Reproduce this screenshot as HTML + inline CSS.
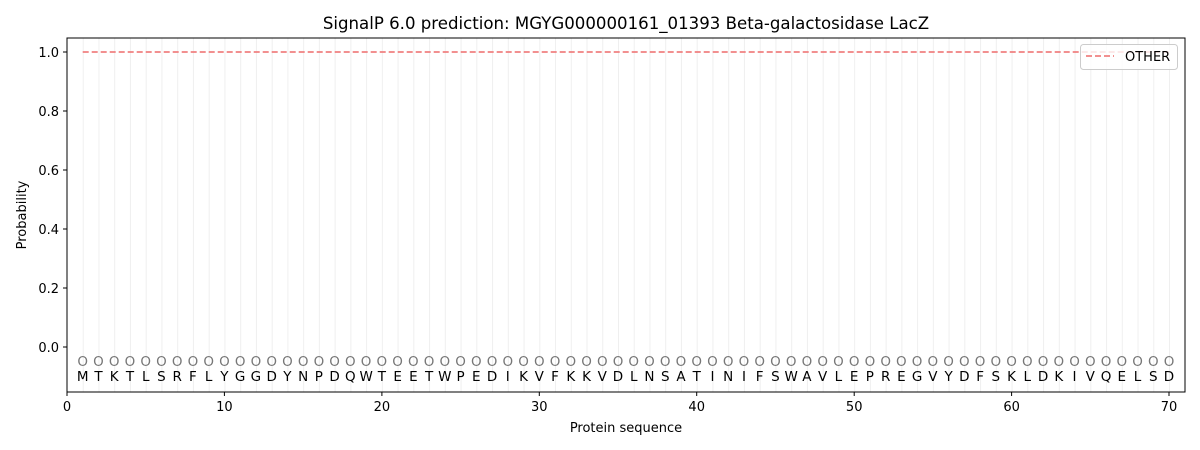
<!DOCTYPE html>
<html><head><meta charset="utf-8"><style>body{margin:0;background:#fff}svg{display:block}</style></head><body>
<svg width="1200" height="450" xmlns="http://www.w3.org/2000/svg" font-family="'DejaVu Sans','Liberation Sans',sans-serif">
<defs><pattern id="g" x="67" y="0" width="15.743" height="450" patternUnits="userSpaceOnUse"><rect x="-1" y="0" width="2" height="450" fill="#efefef"/></pattern></defs>
<rect width="1200" height="450" fill="#fff"/>
<rect x="70" y="38.5" width="1101" height="353" fill="url(#g)"/>
<text x="626" y="29" font-size="16.6" text-anchor="middle">SignalP 6.0 prediction: MGYG000000161_01393 Beta-galactosidase LacZ</text>
<line x1="82.7" y1="52" x2="1169" y2="52" stroke="#f08080" stroke-width="1.8" stroke-dasharray="6,3"/>
<text font-size="13.5" fill="#777" text-anchor="middle" y="366" x="82.74 98.49 114.23 129.97 145.72 161.46 177.20 192.94 208.69 224.43 240.17 255.92 271.66 287.40 303.15 318.89 334.63 350.37 366.12 381.86 397.60 413.35 429.09 444.83 460.58 476.32 492.06 507.80 523.55 539.29 555.03 570.78 586.52 602.26 618.01 633.75 649.49 665.23 680.98 696.72 712.46 728.21 743.95 759.69 775.44 791.18 806.92 822.66 838.41 854.15 869.89 885.64 901.38 917.12 932.87 948.61 964.35 980.09 995.84 1011.58 1027.32 1043.07 1058.81 1074.55 1090.30 1106.04 1121.78 1137.52 1153.27 1169.01">OOOOOOOOOOOOOOOOOOOOOOOOOOOOOOOOOOOOOOOOOOOOOOOOOOOOOOOOOOOOOOOOOOOOOO</text>
<text font-size="13.5" fill="#000" text-anchor="middle" y="381" x="82.74 98.49 114.23 129.97 145.72 161.46 177.20 192.94 208.69 224.43 240.17 255.92 271.66 287.40 303.15 318.89 334.63 350.37 366.12 381.86 397.60 413.35 429.09 444.83 460.58 476.32 492.06 507.80 523.55 539.29 555.03 570.78 586.52 602.26 618.01 633.75 649.49 665.23 680.98 696.72 712.46 728.21 743.95 759.69 775.44 791.18 806.92 822.66 838.41 854.15 869.89 885.64 901.38 917.12 932.87 948.61 964.35 980.09 995.84 1011.58 1027.32 1043.07 1058.81 1074.55 1090.30 1106.04 1121.78 1137.52 1153.27 1169.01">MTKTLSRFLYGGDYNPDQWTEETWPEDIKVFKKVDLNSATINIFSWAVLEPREGVYDFSKLDKIVQELSD</text>
<rect x="67" y="38" width="1118" height="354" fill="none" stroke="#000" stroke-width="1"/>
<g stroke="#000" stroke-width="1">
<line x1="67" y1="392" x2="67" y2="396"/><line x1="224.4" y1="392" x2="224.4" y2="396"/><line x1="381.9" y1="392" x2="381.9" y2="396"/><line x1="539.3" y1="392" x2="539.3" y2="396"/><line x1="696.7" y1="392" x2="696.7" y2="396"/><line x1="854.2" y1="392" x2="854.2" y2="396"/><line x1="1011.6" y1="392" x2="1011.6" y2="396"/><line x1="1169" y1="392" x2="1169" y2="396"/>
<line x1="63" y1="52" x2="67" y2="52"/><line x1="63" y1="111" x2="67" y2="111"/><line x1="63" y1="170" x2="67" y2="170"/><line x1="63" y1="229" x2="67" y2="229"/><line x1="63" y1="288" x2="67" y2="288"/><line x1="63" y1="347" x2="67" y2="347"/>
</g>
<g font-size="13" text-anchor="middle">
<text x="67" y="411">0</text><text x="224.4" y="411">10</text><text x="381.9" y="411">20</text><text x="539.3" y="411">30</text><text x="696.7" y="411">40</text><text x="854.2" y="411">50</text><text x="1011.6" y="411">60</text><text x="1169" y="411">70</text>
</g>
<g font-size="13" text-anchor="end">
<text x="59" y="57">1.0</text><text x="59" y="116">0.8</text><text x="59" y="175">0.6</text><text x="59" y="234">0.4</text><text x="59" y="293">0.2</text><text x="59" y="352">0.0</text>
</g>
<text x="626" y="432" font-size="13" text-anchor="middle">Protein sequence</text>
<text transform="translate(26,215) rotate(-90)" font-size="13" text-anchor="middle">Probability</text>
<rect x="1080.5" y="44.5" width="97" height="25" rx="3" fill="#fff" fill-opacity="0.8" stroke="#ccc"/>
<line x1="1086" y1="56" x2="1114" y2="56" stroke="#f08080" stroke-width="1.8" stroke-dasharray="6,3"/>
<text x="1125" y="61" font-size="13">OTHER</text>
</svg>
</body></html>
